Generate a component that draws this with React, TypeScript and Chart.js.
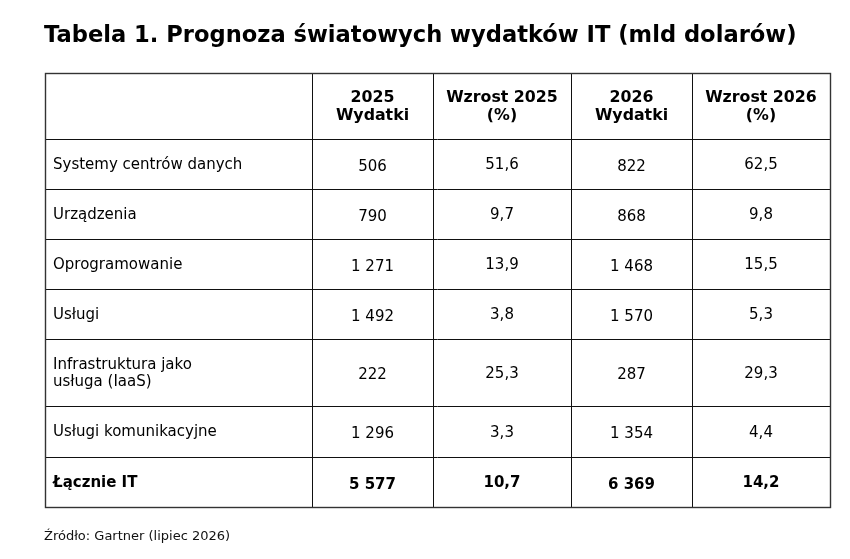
import React, { useEffect, useRef } from "react";
import { Chart, registerables } from "chart.js";

Chart.register(...registerables);

const title = "Tabela 1. Prognoza światowych wydatków IT (mld dolarów)";
const source = "Źródło: Gartner (lipiec 2026)";

const headers = ["", "2025\nWydatki", "Wzrost 2025\n(%)", "2026\nWydatki", "Wzrost 2026\n(%)"];

const categories = [
  "Systemy centrów danych",
  "Urządzenia",
  "Oprogramowanie",
  "Usługi",
  "Infrastruktura jako\nusługa (IaaS)",
  "Usługi komunikacyjne",
  "Łącznie IT",
];

const spending2025 = [506, 790, 1271, 1492, 222, 1296, 5577];
const growth2025 = [51.6, 9.7, 13.9, 3.8, 25.3, 3.3, 10.7];
const spending2026 = [822, 868, 1468, 1570, 287, 1354, 6369];
const growth2026 = [62.5, 9.8, 15.5, 5.3, 29.3, 4.4, 14.2];

// layout (in table units = px)
const colWidths = [267, 121, 138, 121, 138];
const rowHeights = [66, 50, 50, 50, 50, 67, 51, 50];

const FONT = "'DejaVu Sans', sans-serif";

function fmtInt(v: number): string {
  const s = String(Math.round(v));
  return s.replace(/\B(?=(\d{3})+(?!\d))/g, " ");
}
function fmtDec(v: number): string {
  return v.toFixed(1).replace(".", ",");
}

const cumulative = (arr: number[]) => {
  const out = [0];
  arr.forEach((w) => out.push(out[out.length - 1] + w));
  return out;
};

const colEdges = cumulative(colWidths);
const rowEdges = cumulative(rowHeights);

const tablePlugin = {
  id: "tablePlugin",
  afterDraw(chart: any) {
    const ctx = chart.ctx as CanvasRenderingContext2D;
    const xs = chart.scales.x;
    const ys = chart.scales.y;
    const px = (v: number) => xs.getPixelForValue(v);
    const py = (v: number) => ys.getPixelForValue(v);
    const area = chart.chartArea;
    ctx.save();

    // title
    ctx.fillStyle = "#000";
    ctx.font = `bold 22.6px ${FONT}`;
    ctx.textAlign = "left";
    ctx.textBaseline = "middle";
    ctx.fillText(title, area.left - 1, area.top - 37);

    // source
    ctx.font = `13px ${FONT}`;
    ctx.fillStyle = "#111";
    ctx.fillText(source, area.left - 1, area.bottom + 30);

    // grid
    const x0 = px(0), x1 = px(colEdges[colEdges.length - 1]);
    const y0 = py(0), y1 = py(rowEdges[rowEdges.length - 1]);
    ctx.strokeStyle = "#111";
    ctx.lineWidth = 1;
    rowEdges.forEach((r, i) => {
      if (i === 0 || i === rowEdges.length - 1) return;
      const y = Math.round(py(r)) + 0.5;
      ctx.beginPath();
      ctx.moveTo(x0, y);
      ctx.lineTo(x1, y);
      ctx.stroke();
    });
    colEdges.forEach((c, i) => {
      if (i === 0 || i === colEdges.length - 1) return;
      const x = Math.round(px(c)) + 0.5;
      ctx.beginPath();
      ctx.moveTo(x, y0);
      ctx.lineTo(x, y1);
      ctx.stroke();
    });
    // outer border
    ctx.strokeStyle = "#333";
    ctx.lineWidth = 1.4;
    ctx.strokeRect(Math.round(x0) + 0.5, Math.round(y0) + 0.5, Math.round(x1 - x0), Math.round(y1 - y0));

    const colCenter = (i: number) => px((colEdges[i] + colEdges[i + 1]) / 2);
    const rowCenter = (j: number) => py((rowEdges[j] + rowEdges[j + 1]) / 2);

    // header
    ctx.fillStyle = "#000";
    ctx.font = `bold 15.8px ${FONT}`;
    ctx.textAlign = "center";
    headers.forEach((h, i) => {
      if (!h) return;
      const lines = h.split("\n");
      const cy = rowCenter(0) + 1;
      lines.forEach((ln, k) => {
        ctx.fillText(ln, colCenter(i), cy + (k - (lines.length - 1) / 2) * 18);
      });
    });

    const cols = [spending2025, growth2025, spending2026, growth2026];
    const isPct = [false, true, false, true];
    const last = categories.length - 1;
    categories.forEach((cat, r) => {
      const cy = rowCenter(r + 1);
      const bold = r === last;
      ctx.font = `${bold ? "bold " : ""}15px ${FONT}`;
      ctx.textAlign = "left";
      const lines = cat.split("\n");
      lines.forEach((ln, k) => {
        ctx.fillText(ln, px(colEdges[0]) + 8, cy + (k - (lines.length - 1) / 2) * 17 + 1);
      });
      ctx.textAlign = "center";
      cols.forEach((arr, c) => {
        const v = arr[r];
        const txt = isPct[c] ? fmtDec(v) : fmtInt(v);
        const off = isPct[c] ? 1.5 : 3;
        ctx.fillText(txt, colCenter(c + 1), cy + off);
      });
    });

    ctx.restore();
  },
};

export default function App() {
  const ref = useRef<HTMLCanvasElement | null>(null);
  useEffect(() => {
    document.body.style.margin = "0";
    const canvas = ref.current!;
    const chart = new Chart(canvas, {
      type: "scatter",
      data: { datasets: [] },
      options: {
        animation: false,
        responsive: false,
        devicePixelRatio: 1,
        events: [],
        layout: { padding: { left: 45, right: 20, top: 73, bottom: 52 } },
        plugins: { legend: { display: false }, tooltip: { enabled: false }, title: { display: false } },
        scales: {
          x: { type: "linear", display: false, min: 0, max: colEdges[colEdges.length - 1] },
          y: { type: "linear", display: false, min: 0, max: rowEdges[rowEdges.length - 1], reverse: true },
        },
      },
      plugins: [tablePlugin],
    });
    return () => chart.destroy();
  }, []);
  return (
    <div style={{ width: 850, height: 559, background: "#fff" }}>
      <canvas ref={ref} width={850} height={559} style={{ display: "block" }} />
    </div>
  );
}
